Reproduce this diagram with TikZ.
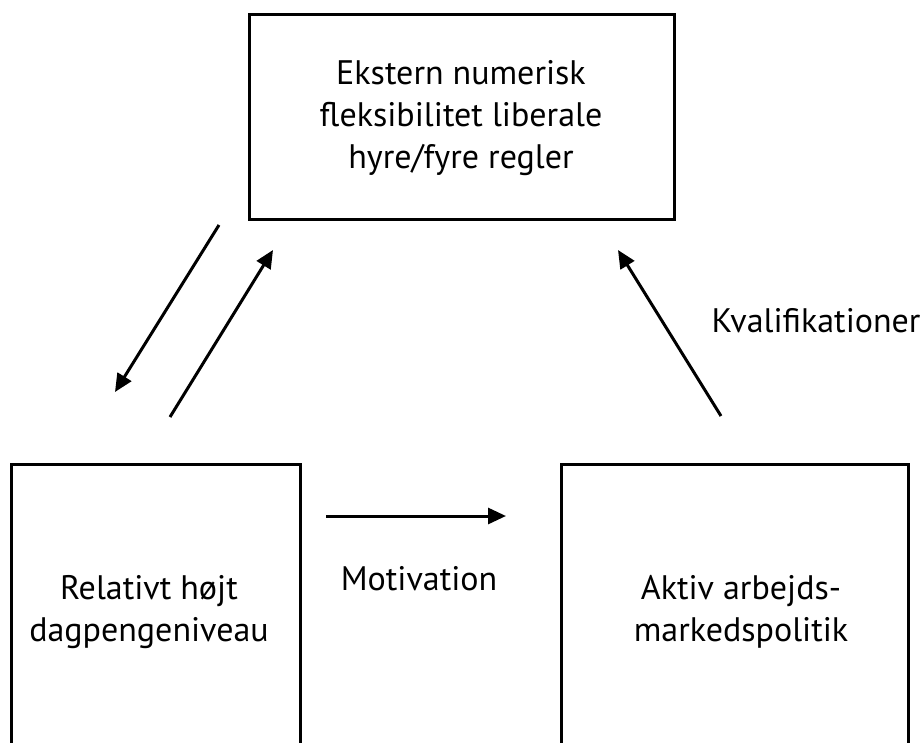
\documentclass[tikz,border=0pt]{standalone}
\usepackage{fontspec}
\setmainfont{PT Sans}
\usetikzlibrary{arrows.meta}
\begin{document}
\begin{tikzpicture}[x=1pt,y=-1pt,
  box/.style={draw, line width=3.2pt, inner sep=0pt},
  lbl/.style={font=\fontsize{34}{42}\selectfont, align=center, inner sep=0pt, text=black},
  conn/.style={line width=3pt, -{Triangle[length=18pt,width=16pt]}}]
\useasboundingbox (0,0) rectangle (924,742);
% boxes
\node[box, minimum width=425pt, minimum height=205pt] (top) at (462,117) {};
\node[box, minimum width=289pt, minimum height=356pt] (left) at (156,642.5) {};
\node[box, minimum width=347pt, minimum height=356pt] (right) at (735,642.5) {};
% texts
\node[lbl] (toptext) at (461,118) {Ekstern numerisk\\fleksibilitet liberale\\hyre/fyre regler};
\node[lbl] (lefttext) at (149,612) {Relativt højt\\dagpengeniveau};
\node[lbl] (righttext) at (741,612) {Aktiv arbejds-\\markedspolitik};
\node[lbl] (motiv) at (419,579) {Motivation};
\node[lbl] (kval) at (816,321) {Kvalifikationer};
% connector end points
\coordinate (a1s) at (219,225);
\coordinate (a1e) at (115,392);
\coordinate (a2s) at (170,417);
\coordinate (a2e) at (273,250);
\coordinate (a3s) at (721,416);
\coordinate (a3e) at (618,250);
\coordinate (a4s) at (326,516);
\coordinate (a4e) at (506,516);
\draw[conn] (a1s) -- (a1e);
\draw[conn] (a2s) -- (a2e);
\draw[conn] (a3s) -- (a3e);
\draw[conn] (a4s) -- (a4e);
\end{tikzpicture}
\end{document}
